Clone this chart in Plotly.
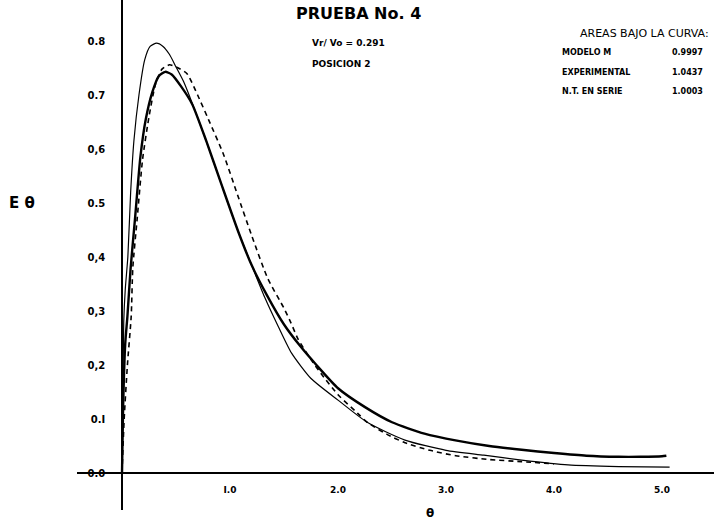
import plotly.graph_objects as go

# ---------------- data ----------------
# thick solid curve
theta_exp = [0, 0.01, 0.03, 0.05, 0.08, 0.12, 0.17, 0.22, 0.28, 0.34, 0.40, 0.46, 0.55,
             0.65, 0.78, 0.92, 1.08, 1.20, 1.34, 1.50, 1.65, 1.80, 2.00, 2.25, 2.50,
             2.80, 3.10, 3.40, 3.70, 4.00, 4.30, 4.60, 4.80, 5.00, 5.04]
e_exp = [0, 0.12, 0.24, 0.29, 0.38, 0.47, 0.585, 0.655, 0.705, 0.735, 0.743, 0.738, 0.715,
         0.683, 0.615, 0.535, 0.445, 0.385, 0.330, 0.275, 0.235, 0.200, 0.157, 0.122, 0.094,
         0.073, 0.060, 0.050, 0.043, 0.037, 0.032, 0.030, 0.030, 0.031, 0.032]

# thin solid curve
theta_nt = [0, 0.008, 0.016, 0.03, 0.054, 0.08, 0.11, 0.157, 0.21, 0.26, 0.32, 0.38, 0.44,
            0.50, 0.57, 0.65, 0.78, 0.92, 1.08, 1.20, 1.32, 1.45, 1.57, 1.75, 2.00, 2.27,
            2.62, 3.00, 3.35, 3.70, 4.13, 4.60, 5.07]
e_nt = [0, 0.14, 0.28, 0.34, 0.40, 0.52, 0.615, 0.70, 0.765, 0.790, 0.796, 0.790, 0.775,
        0.752, 0.725, 0.685, 0.615, 0.535, 0.445, 0.385, 0.326, 0.270, 0.222, 0.175, 0.135,
        0.094, 0.061, 0.042, 0.033, 0.024, 0.015, 0.012, 0.011]

# dashed curve
theta_mod = [0, 0.02, 0.05, 0.085, 0.10, 0.14, 0.19, 0.25, 0.31, 0.37, 0.44, 0.50, 0.60,
             0.70, 0.80, 0.94, 1.07, 1.20, 1.35, 1.50, 1.56, 1.63, 1.75, 1.84, 2.00, 2.18,
             2.27, 2.45, 2.62, 2.85, 3.09, 3.40, 3.70, 4.00]
e_mod = [0, 0.10, 0.20, 0.29, 0.38, 0.47, 0.58, 0.66, 0.72, 0.748, 0.756, 0.752, 0.740,
         0.700, 0.655, 0.590, 0.515, 0.440, 0.360, 0.305, 0.280, 0.248, 0.210, 0.185, 0.145,
         0.111, 0.094, 0.072, 0.056, 0.042, 0.032, 0.025, 0.021, 0.017]

x_tick_vals = [1, 2, 3, 4, 5]
x_tick_text = ["I.0", "2.0", "3.0", "4.0", "5.0"]
y_tick_vals = [0, 0.1, 0.2, 0.3, 0.4, 0.5, 0.6, 0.7, 0.8]
y_tick_text = ["0.0", "0.I", "0,2", "0,3", "0,4", "0.5", "0,6", "0.7", "0.8"]

area_labels = ["MODELO M", "EXPERIMENTAL", "N.T. EN SERIE"]
area_values = ["0.9997", "1.0437", "1.0003"]

# ---------------- layout geometry ----------------
W, H = 714, 522
L, R, T, B = 77, 0, 0, 12
x_range = [-0.4167, 5.481]
y_range = [-0.0685, 0.876]
PW, PH = W - L - R, H - T - B


def px(xp):
    return (xp - L) / PW


def py(yp):
    return (H - B - yp) / PH


FONT = "DejaVu Sans"

fig = go.Figure()
fig.add_trace(go.Scatter(x=theta_nt, y=e_nt, mode="lines", name="N.T. en serie",
                         line=dict(color="black", width=1.2, shape="spline", smoothing=0.6)))
fig.add_trace(go.Scatter(x=theta_mod, y=e_mod, mode="lines", name="Modelo M",
                         line=dict(color="black", width=1.6, dash="5px,4px",
                                   shape="spline", smoothing=0.6)))
fig.add_trace(go.Scatter(x=theta_exp, y=e_exp, mode="lines", name="Experimental",
                         line=dict(color="black", width=2.4, shape="spline", smoothing=0.6)))

xtickfont = dict(family=FONT, size=9, color="black", weight="bold")
ytickfont = dict(family=FONT, size=10, color="black", weight="bold")

fig.update_layout(
    width=W, height=H,
    margin=dict(l=L, r=R, t=T, b=B),
    paper_bgcolor="white", plot_bgcolor="white",
    showlegend=False,
    xaxis=dict(range=x_range, anchor="free",
               position=(0 - y_range[0]) / (y_range[1] - y_range[0]),
               showline=True, linecolor="black", linewidth=1.5,
               showgrid=False, zeroline=False, ticks="",
               tickvals=x_tick_vals, ticktext=x_tick_text,
               tickfont=xtickfont, ticklabelstandoff=8),
    yaxis=dict(range=y_range, anchor="free",
               position=(0 - x_range[0]) / (x_range[1] - x_range[0]),
               showline=True, linecolor="black", linewidth=1.5,
               showgrid=False, zeroline=False, ticks="",
               tickvals=y_tick_vals, ticktext=y_tick_text,
               tickfont=ytickfont, ticklabelstandoff=14),
)

ann = []


def text(x, y, s, size, xanchor="left", bold=False):
    ann.append(dict(x=px(x), y=py(y), xref="paper", yref="paper", text=s,
                    showarrow=False, xanchor=xanchor, yanchor="middle",
                    font=dict(family=FONT, size=size, color="black",
                              weight="bold" if bold else "normal")))


text(358, 13, "PRUEBA No. 4", 16, xanchor="center", bold=True)
text(310, 43, "Vr/ Vo = 0.291", 9, bold=True)
text(310, 64, "POSICION 2", 9, bold=True)
text(578, 34, "AREAS BAJO LA CURVA:", 11)
for i, (lab, val) in enumerate(zip(area_labels, area_values)):
    yy = 53 + 19 * i
    text(560, yy, lab, 8, bold=True)
    text(670, yy, val, 8, bold=True)
text(22, 203, "E θ", 15, xanchor="center", bold=True)
text(430, 513, "θ", 12, xanchor="center", bold=True)

fig.update_layout(annotations=ann)
fig.write_html("out.html", config={"displayModeBar": False},
               post_script="document.body.style.margin='0px';")
